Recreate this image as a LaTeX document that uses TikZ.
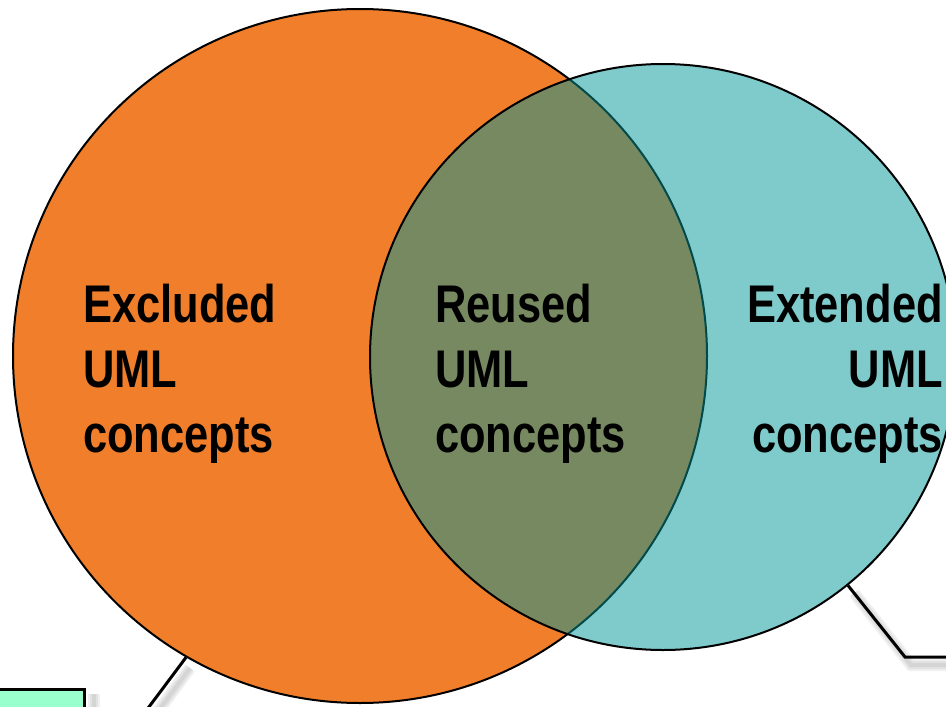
\documentclass[tikz,border=0pt]{standalone}
\usepackage{fontspec}
\usepackage{xcolor}
\newfontfamily\vennfont{Liberation Sans}[FakeStretch=0.82]
\definecolor{excluded}{HTML}{F07E2A}
\definecolor{extended}{HTML}{009597}
\definecolor{note}{HTML}{99FFCC}

\begin{document}
\begin{tikzpicture}[x=1pt,y=-1pt]
  \useasboundingbox (0,0) rectangle (946,707);
  \tikzset{label text/.style={inner sep=0pt,font={\vennfont\bfseries\fontsize{53}{65}\selectfont}}}

  % Soft shadows of the callout lines
  \foreach \w in {4,8,12} {
    \draw[line width=\w pt,black,opacity=0.06] (190,668) -- (154,717);
    \draw[line width=\w pt,black,opacity=0.06] (854,593) -- (911,665) -- (960,665);
    \draw[line width=\w pt,black,opacity=0.06] (94,694) -- (94,720);
  }

  % Callout lines and box
  \node[draw,line width=3pt,fill=note,minimum width=200pt,minimum height=60pt,anchor=north east] (note) at (86,688) {};
  \coordinate (leftend) at (128,735);
  \coordinate (bend) at (905,657);
  \coordinate (rightend) at (960,657);

  % Venn circles
  \node[draw,circle,line width=2pt,fill=excluded,minimum size=694pt,inner sep=0pt] (excl) at (360,356) {};
  \node[draw,circle,line width=2pt,fill=extended,fill opacity=0.5,minimum size=586pt,inner sep=0pt] (ext) at (663,357) {};
  \draw[line width=3pt] (excl.-120) -- (leftend);
  \draw[line width=3pt] (ext.-51) -- (bend) -- (rightend);

  % Labels
  \node[label text,align=left,anchor=north west] (excltext) at (83,284) {Excluded\\UML\\concepts};
  \node[label text,align=left,anchor=north west] (reusetext) at (435,284) {Reused\\UML\\concepts};
  \node[label text,align=right,anchor=north east] (exttext) at (943,284) {Extended\\UML\\concepts};
\end{tikzpicture}
\end{document}
